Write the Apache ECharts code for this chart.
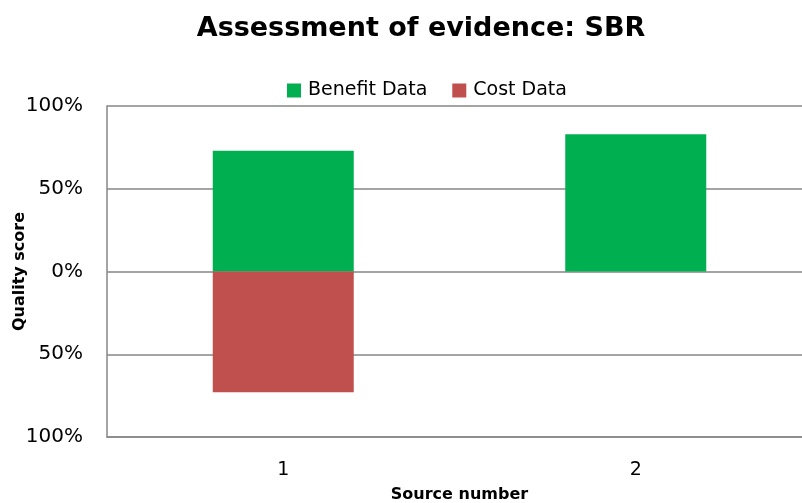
<!DOCTYPE html>
<html>
<head>
<meta charset="utf-8">
<script src="https://cdn.jsdelivr.net/npm/echarts@6/dist/echarts.min.js"></script>
<style>
  html, body { margin: 0; padding: 0; background: #fff; }
  #main { width: 802px; height: 503px; }
</style>
</head>
<body>
<div id="main"></div>
<script>
// data (percent)
var sources = ['1', '2'];
var benefitData = [73, 83];
var costData = [-73, 0];

var font = 'DejaVu Sans';

var myChart = echarts.init(document.getElementById('main'));

myChart.setOption({
  animation: false,
  title: {
    text: 'Assessment of evidence: SBR',
    left: 416,
    top: 10,
    textAlign: 'center',
    textStyle: { fontFamily: font, fontSize: 27, fontWeight: 'bold', color: '#000' }
  },
  legend: {
    data: ['Benefit Data', 'Cost Data'],
    top: 76,
    left: 282,
    itemWidth: 14,
    itemHeight: 14,
    itemGap: 25,
    icon: 'rect',
    textStyle: { fontFamily: font, fontSize: 19, color: '#000', padding: [0, 0, 0, 2] }
  },
  grid: { left: 107, right: -10, top: 106, bottom: 66, outerBoundsMode: 'none' },
  xAxis: {
    type: 'category',
    data: sources,
    name: 'Source number',
    nameLocation: 'middle',
    nameGap: 50,
    nameMoveOverlap: false,
    nameTextStyle: { fontFamily: font, fontSize: 16, fontWeight: 'bold', color: '#000' },
    axisLine: { onZero: false, lineStyle: { color: '#868686', width: 1.5 } },
    axisTick: { show: false },
    axisLabel: { fontFamily: font, fontSize: 19, color: '#000', margin: 24 }
  },
  yAxis: {
    type: 'value',
    min: -100,
    max: 100,
    interval: 50,
    name: 'Quality score',
    nameLocation: 'middle',
    nameGap: 79,
    nameMoveOverlap: false,
    nameTextStyle: { fontFamily: font, fontSize: 16, fontWeight: 'bold', color: '#000' },
    axisLine: { show: true, lineStyle: { color: '#868686', width: 1.5 } },
    axisTick: { show: false },
    splitLine: { lineStyle: { color: '#868686', width: 1.5 } },
    axisLabel: {
      fontFamily: font, fontSize: 20, color: '#000', margin: 24,
      formatter: function (v) { return Math.abs(v) + '%'; }
    }
  },
  series: [
    {
      name: 'Benefit Data',
      type: 'bar',
      stack: 'q',
      data: benefitData,
      barWidth: '40%',
      itemStyle: { color: '#00B050' }
    },
    {
      name: 'Cost Data',
      type: 'bar',
      stack: 'q',
      data: costData,
      barWidth: '40%',
      itemStyle: { color: '#C0504D' }
    }
  ]
});
</script>
</body>
</html>
